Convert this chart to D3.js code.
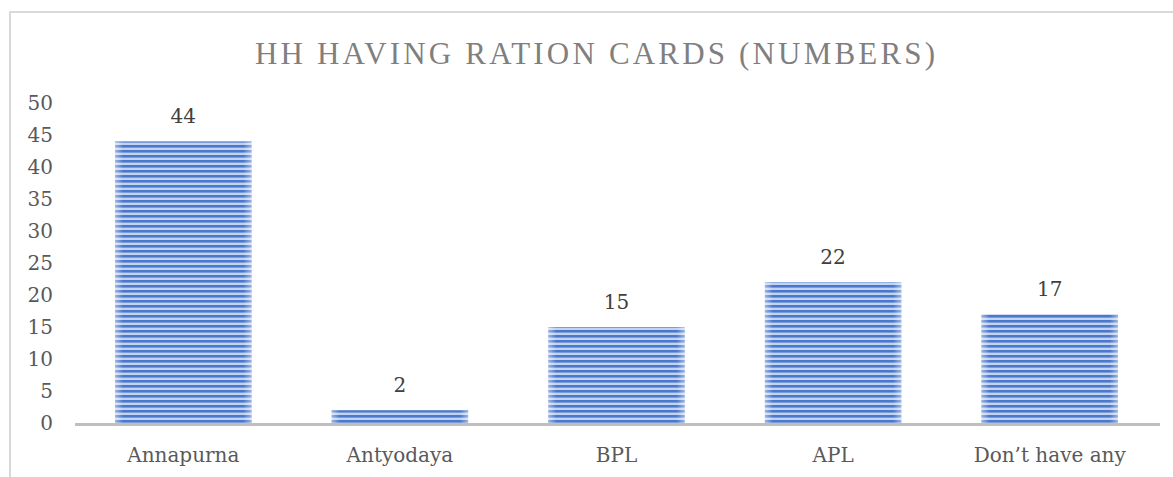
<!DOCTYPE html>
<html>
<head>
<meta charset="utf-8">
<script src="https://cdn.jsdelivr.net/npm/d3@7"></script>
<style>
  body { margin: 0; background: #fff; }
</style>
</head>
<body>
<div id="chart"></div>
<script>
const categories = ["Annapurna", "Antyodaya", "BPL", "APL", "Don\u2019t have any"];
const values = [44, 2, 15, 22, 17];
const yTicks = [0, 5, 10, 15, 20, 25, 30, 35, 40, 45, 50];
const title = "HH HAVING RATION CARDS (NUMBERS)";

const W = 1173, H = 477;
const svg = d3.select("#chart").append("svg")
  .attr("width", W)
  .attr("height", H);

// chart frame (cut off at right/bottom like the source)
svg.append("rect")
  .attr("x", 10).attr("y", 12)
  .attr("width", W + 20).attr("height", H + 20)
  .attr("fill", "none")
  .attr("stroke", "#d9d9d9")
  .attr("stroke-width", 2);

const defs = svg.append("defs");
const pat = defs.append("pattern")
  .attr("id", "stripes")
  .attr("patternUnits", "userSpaceOnUse")
  .attr("width", 10).attr("height", 5);
pat.append("rect").attr("width", 10).attr("height", 5).attr("fill", "#c2d3f0");
pat.append("rect").attr("y", 0).attr("width", 10).attr("height", 2.6).attr("fill", "#4a78cc");

const grad = defs.append("linearGradient")
  .attr("id", "edges")
  .attr("x1", "0%").attr("x2", "100%").attr("y1", "0%").attr("y2", "0%");
[[0, 0.45], [0.06, 0], [0.94, 0], [1, 0.45]].forEach(s => {
  grad.append("stop")
    .attr("offset", s[0])
    .attr("stop-color", "#ffffff")
    .attr("stop-opacity", s[1]);
});

const x = d3.scaleBand()
  .domain(categories)
  .range([75, 1158])
  .paddingInner(0.37)
  .paddingOuter(0.185);

const y = d3.scaleLinear()
  .domain([0, 50])
  .range([423, 103]);

// title
svg.append("text")
  .attr("x", 595).attr("y", 64)
  .attr("text-anchor", "middle")
  .attr("font-family", "Liberation Serif")
  .attr("font-size", "31px")
  .attr("fill", "#7f7f7f")
  .attr("textLength", 680)
  .attr("lengthAdjust", "spacing")
  .text(title);

// y tick labels
svg.selectAll("text.ytick")
  .data(yTicks)
  .enter()
  .append("text")
  .attr("class", "ytick")
  .attr("x", 53)
  .attr("y", d => y(d))
  .attr("dy", "0.36em")
  .attr("text-anchor", "end")
  .attr("font-family", "DejaVu Serif")
  .attr("font-size", "20px")
  .attr("fill", "#595959")
  .text(d => d);

// bars
const bars = svg.append("g");
bars.selectAll("rect.bar")
  .data(values)
  .enter()
  .append("rect")
  .attr("class", "bar")
  .attr("x", (d, i) => x(categories[i]))
  .attr("y", d => y(d))
  .attr("width", x.bandwidth())
  .attr("height", d => y(0) - y(d))
  .attr("fill", "url(#stripes)");
bars.selectAll("rect.shade")
  .data(values)
  .enter()
  .append("rect")
  .attr("class", "shade")
  .attr("x", (d, i) => x(categories[i]))
  .attr("y", d => y(d))
  .attr("width", x.bandwidth())
  .attr("height", d => y(0) - y(d))
  .attr("fill", "url(#edges)");

// x axis line
svg.append("line")
  .attr("x1", 75).attr("x2", 1160)
  .attr("y1", y(0) + 1.5).attr("y2", y(0) + 1.5)
  .attr("stroke", "#bfbfbf")
  .attr("stroke-width", 3);

// value labels
svg.selectAll("text.val")
  .data(values)
  .enter()
  .append("text")
  .attr("class", "val")
  .attr("x", (d, i) => x(categories[i]) + x.bandwidth() / 2)
  .attr("y", d => y(d) - 18)
  .attr("text-anchor", "middle")
  .attr("font-family", "DejaVu Serif")
  .attr("font-size", "20px")
  .attr("fill", "#404040")
  .text(d => d);

// category labels
svg.selectAll("text.cat")
  .data(categories)
  .enter()
  .append("text")
  .attr("class", "cat")
  .attr("x", d => x(d) + x.bandwidth() / 2)
  .attr("y", 462)
  .attr("text-anchor", "middle")
  .attr("font-family", "DejaVu Serif")
  .attr("font-size", "20px")
  .attr("fill", "#595959")
  .text(d => d);
</script>
</body>
</html>
